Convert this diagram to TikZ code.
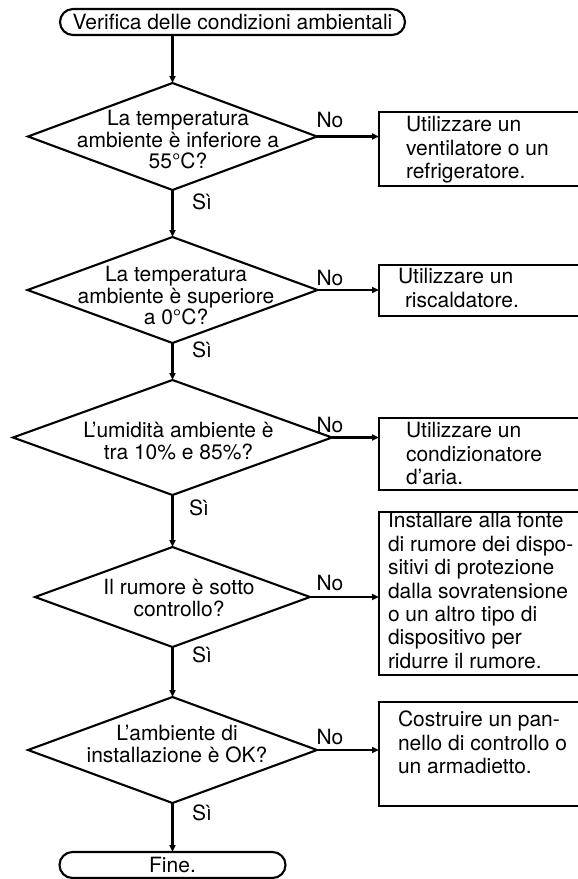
\documentclass[tikz,border=0pt]{standalone}
\usepackage{fontspec}
\setmainfont{TeX Gyre Heros}
\usetikzlibrary{shapes.geometric,shapes.misc,arrows.meta}
\begin{document}
\begin{tikzpicture}[x=1pt,y=-1pt,
  every node/.style={inner sep=0pt, outer sep=0pt},
  ln/.style={line width=2.1pt},
  arr/.style={ln, -{Triangle[length=7pt,width=6pt]}},
  term/.style={rounded rectangle, draw, ln, minimum height=26pt, font=\fontsize{21}{23.4}\selectfont},
  dec/.style={diamond, draw, ln},
  dtext/.style={align=center, font=\fontsize{21}{21.3}\selectfont, execute at begin node=\strut, execute at end node=\strut},
  btext/.style={align=left, anchor=west, font=\fontsize{21}{23.4}\selectfont, execute at begin node=\strut, execute at end node=\strut},
  lbl/.style={font=\fontsize{21}{23.4}\selectfont},
  boxarea/.style={rectangle, minimum width=199pt}
]
\fill[white] (0,0) rectangle (578,879);
\useasboundingbox (0,0) rectangle (578,879);

% terminators
\node[term, minimum width=345pt] (start) at (232.5,22) {Verifica delle condizioni ambientali};
\node[term, minimum width=226pt] (fine) at (172.5,865) {Fine.};

% decisions
\node[dec, minimum width=289pt, minimum height=107pt] (d1) at (172.5,136.5) {};
\node[dec, minimum width=290pt, minimum height=106pt] (d2) at (172.5,290) {};
\node[dec, minimum width=319pt, minimum height=115pt] (d3) at (172.5,437.5) {};
\node[dec, minimum width=275pt, minimum height=100pt] (d4) at (172.5,597) {};
\node[dec, minimum width=289pt, minimum height=106pt] (d5) at (172.5,750) {};

\node[dtext] (q1) at (178,142.7) {La temperatura\\ambiente è inferiore a\\55°C?};
\node[dtext] (q2) at (176,298.7) {La temperatura\\ambiente è superiore\\a 0°C?};
\node[dtext] (q3) at (178.5,444) {L’umidità ambiente è\\tra 10\% e 85\%?};
\node[dtext] (q4) at (179,601) {Il rumore è sotto\\controllo?};
\node[dtext] (q5) at (177,747) {L’ambiente di\\installazione è OK?};

% action boxes (cut off at the right edge)
\node[boxarea, minimum height=74pt] (b1) at (478.5,149) {};
\node[boxarea, minimum height=51pt] (b2) at (478.5,290.5) {};
\node[boxarea, minimum height=72pt] (b3) at (478.5,454) {};
\node[boxarea, minimum height=163pt] (b4) at (478.5,593.5) {};
\node[boxarea, minimum height=104pt] (b5) at (478.5,754) {};
\foreach \b in {b1,b2,b3,b4,b5}
  \draw[ln] (\b.north east) -- (\b.north west) -- (\b.south west) -- (\b.south east);

\node[btext] (a1) at (406,151) {Utilizzare un\\ventilatore o un\\refrigeratore.};
\node[btext] (a2) at (398,291.5) {Utilizzare un\\\hspace*{7pt}riscaldatore.};
\node[btext] (a3) at (406,457) {Utilizzare un\\condizionatore\\d’aria.};
\node[btext] (a4) at (388,594) {Installare alla fonte\\di rumore dei dispo-\\sitivi di protezione\\dalla sovratensione\\o un altro tipo di\\dispositivo per\\ridurre il rumore.};
\node[btext] (a5) at (398,745.7) {Costruire un pan-\\nello di controllo o\\un armadietto.};

% labels
\node[lbl] (s1) at (202,202) {Sì};
\node[lbl] (s2) at (202,350) {Sì};
\node[lbl] (s3) at (199,508) {Sì};
\node[lbl] (s4) at (202,655) {Sì};
\node[lbl] (s5) at (202,813) {Sì};
\node[lbl] (n1) at (330,120) {No};
\node[lbl] (n2) at (330,278) {No};
\node[lbl] (n3) at (330,425) {No};
\node[lbl] (n4) at (330,583) {No};
\node[lbl] (n5) at (330,737) {No};

% connectors
\draw[arr] (d1.north |- start.south) -- (d1.north);
\draw[arr] (d1.south) -- (d2.north);
\draw[arr] (d2.south) -- (d3.north);
\draw[arr] (d3.south) -- (d4.north);
\draw[arr] (d4.south) -- (d5.north);
\draw[arr] (d5.south) -- (fine.north);
\draw[arr] (d1.east) -- (d1.east -| b1.west);
\draw[arr] (d2.east) -- (d2.east -| b2.west);
\draw[arr] (d3.east) -- (d3.east -| b3.west);
\draw[arr] (d4.east) -- (d4.east -| b4.west);
\draw[arr] (d5.east) -- (d5.east -| b5.west);
\end{tikzpicture}
\end{document}
